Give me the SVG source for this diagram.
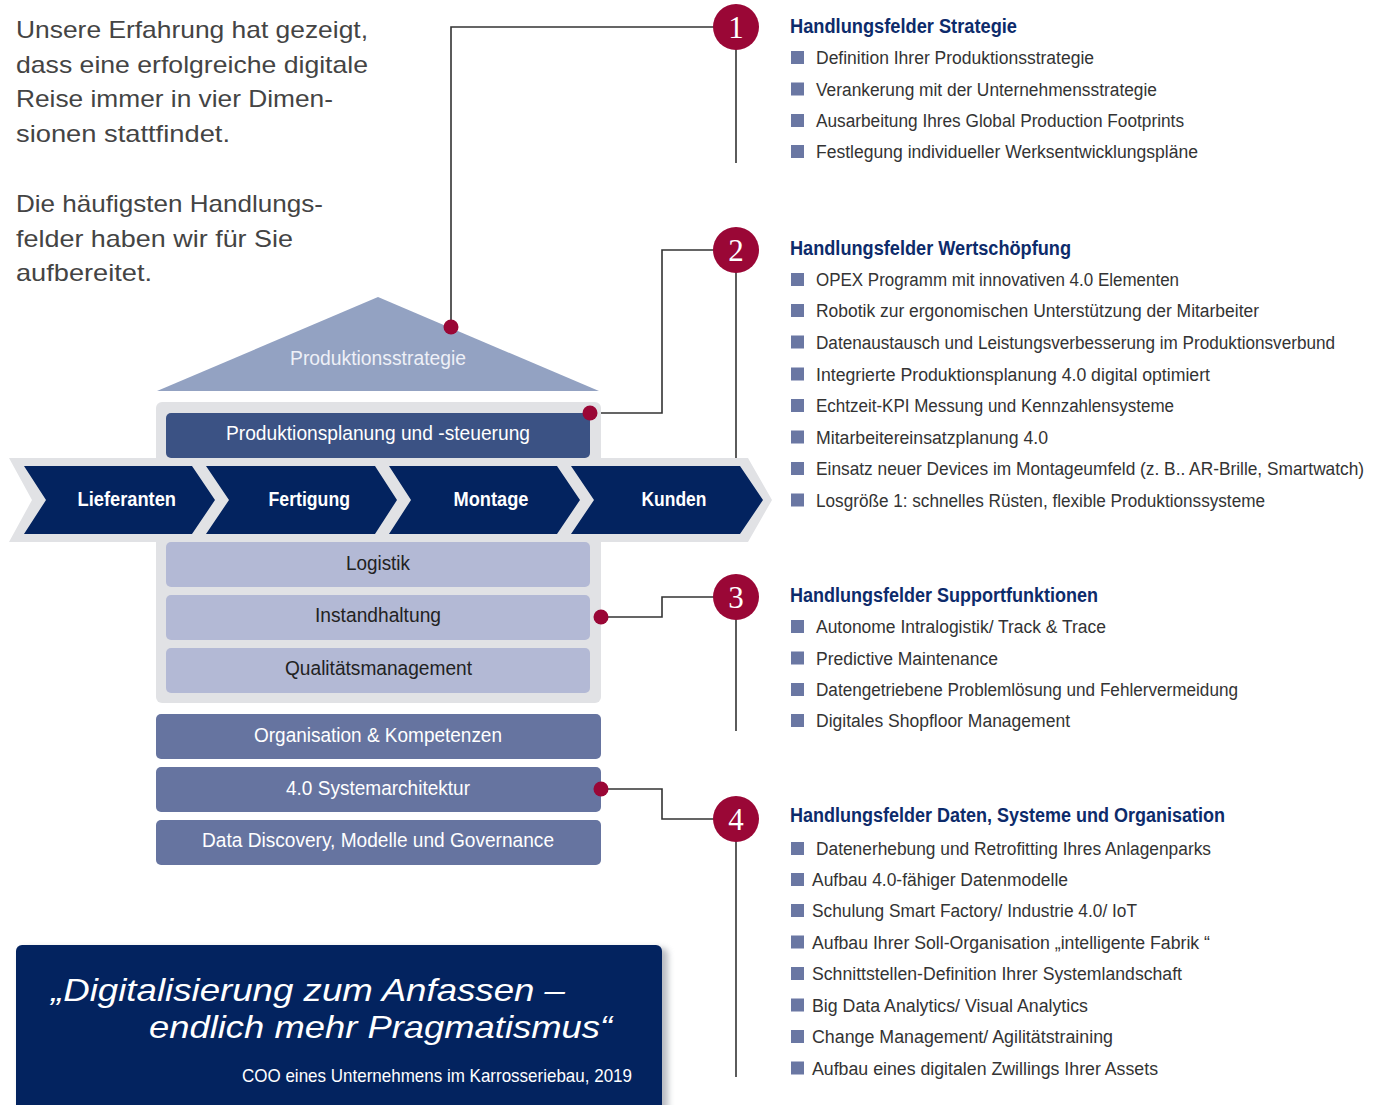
<svg xmlns="http://www.w3.org/2000/svg" width="1381" height="1105" viewBox="0 0 1381 1105">
<defs>
<style>
.intro{font-family:"Liberation Sans",Arial,sans-serif;font-size:24px;fill:#444444}
.n{font-family:"Liberation Sans Narrow","Liberation Sans",Arial,sans-serif}
.bul{font-size:18px;fill:#333}
.hd{font-size:19.5px;font-weight:bold;fill:#0d2b6b}
.lw{font-size:20.5px;fill:#ffffff}
.ld{font-size:20.5px;fill:#222222}
.chev{font-size:20.5px;font-weight:bold;fill:#ffffff}
.sq{fill:#6a77a3}
.dot{fill:#9a0736}
.num{fill:#9a0736}
.numt{font-family:"Liberation Serif","Times New Roman",serif;font-size:31px;fill:#ffffff;text-anchor:middle}
.con{fill:none;stroke:#333;stroke-width:1.6}
.navy{fill:#03235f}
.light{fill:#b3b9d5}
.slate{fill:#6674a0}
</style>
<filter id="sh" x="-10%" y="-20%" width="120%" height="140%"><feGaussianBlur stdDeviation="3"/></filter>
</defs>

<g id="intro">
<text class="intro" x="16" y="37.5" textLength="352" lengthAdjust="spacingAndGlyphs">Unsere Erfahrung hat gezeigt,</text>
<text class="intro" x="16" y="72.5" textLength="352" lengthAdjust="spacingAndGlyphs">dass eine erfolgreiche digitale</text>
<text class="intro" x="16" y="107" textLength="317" lengthAdjust="spacingAndGlyphs">Reise immer in vier Dimen-</text>
<text class="intro" x="16" y="141.5" textLength="214" lengthAdjust="spacingAndGlyphs">sionen stattfindet.</text>
<text class="intro" x="16" y="211.5" textLength="307" lengthAdjust="spacingAndGlyphs">Die häufigsten Handlungs-</text>
<text class="intro" x="16" y="246.5" textLength="277" lengthAdjust="spacingAndGlyphs">felder haben wir für Sie</text>
<text class="intro" x="16" y="281" textLength="136" lengthAdjust="spacingAndGlyphs">aufbereitet.</text>
</g>

<g id="connectors">
<polyline class="con" points="451,327 451,27 736,27"/>
<line class="con" x1="736" y1="27" x2="736" y2="163"/>
<polyline class="con" points="590,413 662,413 662,250 736,250"/>
<line class="con" x1="736" y1="250" x2="736" y2="458"/>
<polyline class="con" points="601,617 662,617 662,597 736,597"/>
<line class="con" x1="736" y1="597" x2="736" y2="731"/>
<polyline class="con" points="601,789 662,789 662,819 736,819"/>
<line class="con" x1="736" y1="819" x2="736" y2="1077"/>
</g>

<g id="roof">
<polygon points="157,391 378,297 599,391" fill="#93a2c2"/>
<text class="n lw" x="290" y="365" textLength="176" lengthAdjust="spacingAndGlyphs" style="fill:#eef0f7">Produktionsstrategie</text>
</g>

<g id="panel">
<rect x="156" y="402" width="445" height="301" rx="6" fill="#e1e2e5"/>
</g>

<g id="pps">
<rect x="166" y="413" width="424" height="45" rx="5" fill="#3b5284"/>
<text class="n lw" x="226" y="440" textLength="304" lengthAdjust="spacingAndGlyphs">Produktionsplanung und -steuerung</text>
</g>

<g id="band">
<polygon points="9,458 748,458 772,500 748,542 9,542 32,500" fill="#e1e2e5"/>
</g>
<g id="lieferanten">
<polygon class="navy" points="24,466 192,466 215,500 192,534 24,534 46,500"/>
<text class="n chev" x="77.5" y="506" textLength="98.5" lengthAdjust="spacingAndGlyphs">Lieferanten</text>
</g>
<g id="fertigung">
<polygon class="navy" points="206,466 375,466 397,500 375,534 206,534 229,500"/>
<text class="n chev" x="268.5" y="506" textLength="81.5" lengthAdjust="spacingAndGlyphs">Fertigung</text>
</g>
<g id="montage">
<polygon class="navy" points="389,466 557,466 580,500 557,534 389,534 411,500"/>
<text class="n chev" x="453.5" y="506" textLength="75" lengthAdjust="spacingAndGlyphs">Montage</text>
</g>
<g id="kunden">
<polygon class="navy" points="571,466 740,466 763,500 740,534 571,534 594,500"/>
<text class="n chev" x="641.5" y="506" textLength="65" lengthAdjust="spacingAndGlyphs">Kunden</text>
</g>

<g id="logistik">
<rect class="light" x="166" y="542" width="424" height="45" rx="5"/>
<text class="n ld" x="346" y="570" textLength="64" lengthAdjust="spacingAndGlyphs">Logistik</text>
</g>
<g id="instandhaltung">
<rect class="light" x="166" y="595" width="424" height="45" rx="5"/>
<text class="n ld" x="315" y="621.5" textLength="126" lengthAdjust="spacingAndGlyphs">Instandhaltung</text>
</g>
<g id="qualitaet">
<rect class="light" x="166" y="648" width="424" height="45" rx="5"/>
<text class="n ld" x="285" y="675" textLength="187" lengthAdjust="spacingAndGlyphs">Qualitätsmanagement</text>
</g>
<g id="organisation">
<rect class="slate" x="156" y="714" width="445" height="45" rx="5"/>
<text class="n lw" x="254" y="741.5" textLength="248" lengthAdjust="spacingAndGlyphs">Organisation &amp; Kompetenzen</text>
</g>
<g id="systemarchitektur">
<rect class="slate" x="156" y="767" width="445" height="45" rx="5"/>
<text class="n lw" x="286" y="795" textLength="184" lengthAdjust="spacingAndGlyphs">4.0 Systemarchitektur</text>
</g>
<g id="datadiscovery">
<rect class="slate" x="156" y="820" width="445" height="45" rx="5"/>
<text class="n lw" x="202" y="846.5" textLength="352" lengthAdjust="spacingAndGlyphs">Data Discovery, Modelle und Governance</text>
</g>

<g id="dots">
<circle class="dot" cx="451" cy="327" r="7.5"/>
<circle class="dot" cx="590" cy="413" r="7.5"/>
<circle class="dot" cx="601" cy="617" r="7.5"/>
<circle class="dot" cx="601" cy="789" r="7.5"/>
</g>

<g id="n1"><circle class="num" cx="736" cy="27" r="23"/><text class="numt" x="736" y="38">1</text></g>
<g id="n2"><circle class="num" cx="736" cy="250" r="23"/><text class="numt" x="736" y="261">2</text></g>
<g id="n3"><circle class="num" cx="736" cy="597" r="23"/><text class="numt" x="736" y="608">3</text></g>
<g id="n4"><circle class="num" cx="736" cy="819" r="23"/><text class="numt" x="736" y="830">4</text></g>

<g id="s1">
<text class="n hd" x="790" y="33" textLength="227" lengthAdjust="spacingAndGlyphs">Handlungsfelder Strategie</text>
<rect class="sq" x="791" y="51" width="13" height="13"/><text class="n bul" x="816" y="64" textLength="278" lengthAdjust="spacingAndGlyphs">Definition Ihrer Produktionsstrategie</text>
<rect class="sq" x="791" y="82.5" width="13" height="13"/><text class="n bul" x="816" y="95.5" textLength="341" lengthAdjust="spacingAndGlyphs">Verankerung mit der Unternehmensstrategie</text>
<rect class="sq" x="791" y="114" width="13" height="13"/><text class="n bul" x="816" y="127" textLength="368" lengthAdjust="spacingAndGlyphs">Ausarbeitung Ihres Global Production Footprints</text>
<rect class="sq" x="791" y="145" width="13" height="13"/><text class="n bul" x="816" y="158" textLength="382" lengthAdjust="spacingAndGlyphs">Festlegung individueller Werksentwicklungspläne</text>
</g>

<g id="s2">
<text class="n hd" x="790" y="255" textLength="281" lengthAdjust="spacingAndGlyphs">Handlungsfelder Wertschöpfung</text>
<rect class="sq" x="791" y="273" width="13" height="13"/><text class="n bul" x="816" y="286" textLength="363" lengthAdjust="spacingAndGlyphs">OPEX Programm mit innovativen 4.0 Elementen</text>
<rect class="sq" x="791" y="304" width="13" height="13"/><text class="n bul" x="816" y="317" textLength="443" lengthAdjust="spacingAndGlyphs">Robotik zur ergonomischen Unterstützung der Mitarbeiter</text>
<rect class="sq" x="791" y="335.5" width="13" height="13"/><text class="n bul" x="816" y="348.5" textLength="519" lengthAdjust="spacingAndGlyphs">Datenaustausch und Leistungsverbesserung im Produktionsverbund</text>
<rect class="sq" x="791" y="367.5" width="13" height="13"/><text class="n bul" x="816" y="380.5" textLength="394" lengthAdjust="spacingAndGlyphs">Integrierte Produktionsplanung 4.0 digital optimiert</text>
<rect class="sq" x="791" y="399" width="13" height="13"/><text class="n bul" x="816" y="412" textLength="358" lengthAdjust="spacingAndGlyphs">Echtzeit-KPI Messung und Kennzahlensysteme</text>
<rect class="sq" x="791" y="430.5" width="13" height="13"/><text class="n bul" x="816" y="443.5" textLength="232" lengthAdjust="spacingAndGlyphs">Mitarbeitereinsatzplanung 4.0</text>
<rect class="sq" x="791" y="462" width="13" height="13"/><text class="n bul" transform="translate(816,475) scale(0.9,1)" x="0" y="0" textLength="609" lengthAdjust="spacingAndGlyphs">Einsatz neuer Devices im Montageumfeld (z. B.. AR-Brille, Smartwatch)</text>
<rect class="sq" x="791" y="493.5" width="13" height="13"/><text class="n bul" x="816" y="506.5" textLength="449" lengthAdjust="spacingAndGlyphs">Losgröße 1: schnelles Rüsten, flexible Produktionssysteme</text>
</g>

<g id="s3">
<text class="n hd" x="790" y="602" textLength="308" lengthAdjust="spacingAndGlyphs">Handlungsfelder Supportfunktionen</text>
<rect class="sq" x="791" y="620" width="13" height="13"/><text class="n bul" x="816" y="633" textLength="290" lengthAdjust="spacingAndGlyphs">Autonome Intralogistik/ Track &amp; Trace</text>
<rect class="sq" x="791" y="651.5" width="13" height="13"/><text class="n bul" x="816" y="664.5" textLength="182" lengthAdjust="spacingAndGlyphs">Predictive Maintenance</text>
<rect class="sq" x="791" y="683" width="13" height="13"/><text class="n bul" x="816" y="696" textLength="422" lengthAdjust="spacingAndGlyphs">Datengetriebene Problemlösung und Fehlervermeidung</text>
<rect class="sq" x="791" y="714" width="13" height="13"/><text class="n bul" x="816" y="727" textLength="254" lengthAdjust="spacingAndGlyphs">Digitales Shopfloor Management</text>
</g>

<g id="s4">
<text class="n hd" x="790" y="822" textLength="435" lengthAdjust="spacingAndGlyphs">Handlungsfelder Daten, Systeme und Organisation</text>
<rect class="sq" x="791" y="842" width="13" height="13"/><text class="n bul" x="816" y="855" textLength="395" lengthAdjust="spacingAndGlyphs">Datenerhebung und Retrofitting Ihres Anlagenparks</text>
<rect class="sq" x="791" y="873" width="13" height="13"/><text class="n bul" x="812" y="886" textLength="256" lengthAdjust="spacingAndGlyphs">Aufbau 4.0-fähiger Datenmodelle</text>
<rect class="sq" x="791" y="904" width="13" height="13"/><text class="n bul" x="812" y="917" textLength="325" lengthAdjust="spacingAndGlyphs">Schulung Smart Factory/ Industrie 4.0/ IoT</text>
<rect class="sq" x="791" y="935.5" width="13" height="13"/><text class="n bul" x="812" y="948.5" textLength="398" lengthAdjust="spacingAndGlyphs">Aufbau Ihrer Soll-Organisation „intelligente Fabrik “</text>
<rect class="sq" x="791" y="967" width="13" height="13"/><text class="n bul" x="812" y="980" textLength="370" lengthAdjust="spacingAndGlyphs">Schnittstellen-Definition Ihrer Systemlandschaft</text>
<rect class="sq" x="791" y="998.5" width="13" height="13"/><text class="n bul" x="812" y="1011.5" textLength="276" lengthAdjust="spacingAndGlyphs">Big Data Analytics/ Visual Analytics</text>
<rect class="sq" x="791" y="1030" width="13" height="13"/><text class="n bul" x="812" y="1043" textLength="301" lengthAdjust="spacingAndGlyphs">Change Management/ Agilitätstraining</text>
<rect class="sq" x="791" y="1061.5" width="13" height="13"/><text class="n bul" x="812" y="1074.5" textLength="346" lengthAdjust="spacingAndGlyphs">Aufbau eines digitalen Zwillings Ihrer Assets</text>
</g>

<g id="quote">
<rect x="20" y="948" width="648" height="170" rx="6" fill="#8a8f9a" opacity="0.6" filter="url(#sh)"/>
<rect x="16" y="945" width="646" height="170" rx="6" fill="#03235f"/>
<text class="n" x="51" y="1001" textLength="514" lengthAdjust="spacingAndGlyphs" style="font-size:32px;font-style:italic;fill:#ffffff">„Digitalisierung zum Anfassen –</text>
<text class="n" x="149" y="1038" textLength="463" lengthAdjust="spacingAndGlyphs" style="font-size:32px;font-style:italic;fill:#ffffff">endlich mehr Pragmatismus“</text>
<text class="n" x="242" y="1082" textLength="390" lengthAdjust="spacingAndGlyphs" style="font-size:19px;fill:#ffffff">COO eines Unternehmens im Karrosseriebau, 2019</text>
</g>
</svg>
